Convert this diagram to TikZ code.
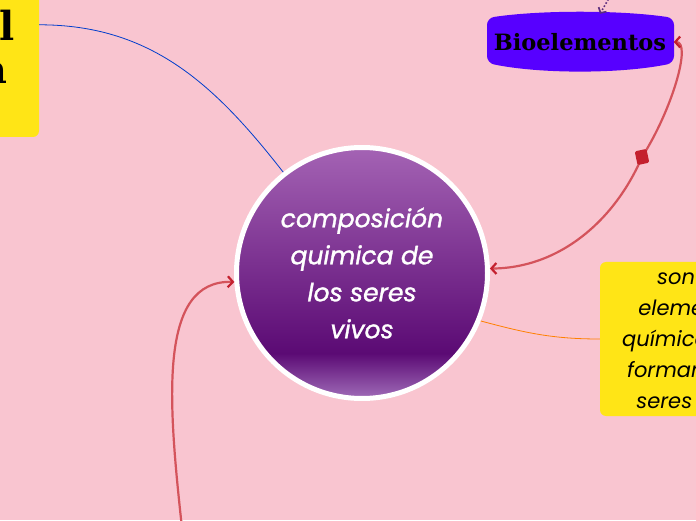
\documentclass[tikz,border=0pt]{standalone}
\usepackage{fontspec}
\usepackage{xcolor}
\usepackage{tikz}
\usetikzlibrary{positioning,arrows.meta}
\newfontfamily\ballfont{Poppins}[ItalicFeatures={FakeBold=1.3}]
\newfontfamily\notefont{Poppins}
\newfontfamily\chunkyfont{DejaVu Serif}
\definecolor{bgpink}{HTML}{F9C5D0}
\definecolor{notey}{HTML}{FFE516}
\definecolor{bioblue}{HTML}{5700FF}
\definecolor{linkred}{HTML}{D4535B}
\definecolor{tipred}{HTML}{C4202E}
\definecolor{toppurple}{HTML}{5C2C7E}
\definecolor{ballTop}{HTML}{A463B4}
\definecolor{ballDark}{HTML}{5B0A74}
\definecolor{ballLow}{HTML}{A06CB8}
\pgfdeclareverticalshading{purpball}{100bp}{color(0bp)=(ballLow); color(25bp)=(ballLow);
  color(34bp)=(ballDark); color(75bp)=(ballTop); color(100bp)=(ballTop)}

\begin{document}
\begin{tikzpicture}[x=1pt, y=1pt,
  ybox/.style={fill=notey, rounded corners=6pt},
  ball/.style={circle, minimum size=251, draw=white, line width=5pt,
    shade, shading=purpball, text=white, align=center,
    font=\ballfont\itshape\fontsize{25}{37}\selectfont},
  redline/.style={draw=linkred, line width=2.2pt},
  barb/.tip={Straight Barb[length=5pt, width=11pt, color=tipred]},
  knotbox/.style={fill=tipred, rounded corners=1.5pt, minimum width=12, minimum height=14, inner sep=0pt}]
  \useasboundingbox (0,0) rectangle (696,520);
  \clip (0,0) rectangle (696,520);
  \fill[bgpink] (0,0) rectangle (696,520);

  \node[ybox, minimum width=90, minimum height=180, align=center,
    font=\chunkyfont\bfseries\fontsize{40}{43}\selectfont] (lnote) at (-6,473) {al\\a};
  \node[ball] (main) at (362,247) {composición\\quimica de\\los seres\\vivos};
  % bioelementos
  \fill[bioblue, rounded corners=7pt] (487,502) .. controls (540,510) and (620,510) .. (674,502)
    -- (674,457) .. controls (620,446) and (540,446) .. (487,457) -- cycle;
  \node[minimum width=187, minimum height=56,
    font=\chunkyfont\bfseries\fontsize{22.5}{24}\selectfont] (bio) at (580,478) {Bioelementos};
  \node[ybox, minimum width=188, minimum height=154, inner ysep=0pt, align=center,
    font=\notefont\itshape\fontsize{21}{31}\selectfont] (rnote) at (694,181)
    {son los\\elementos\\químicos que\\forman a los\\seres vivos};

  \coordinate (knot) at (642,363);
  \coordinate (below) at (182,-8);
  \coordinate (above) at (612,527);

  \draw[draw=blue!70!cyan!80!black, line width=0.8pt] ([yshift=-68pt]lnote.north east) to[out=0,in=128] (main.128);
  \draw[draw=orange, line width=0.8pt] (main.-22) to[out=-15,in=180] (rnote.west);
  \draw[redline, {barb}-{barb}] (bio.east) .. controls (692,478) and (672,410) .. (knot)
    .. controls (615,300) and (560,252) .. (main.2);
  \node[knotbox, rotate=12] (knotmark) at (knot) {};
  \draw[redline, -{barb}] (below) .. controls (168,120) and (158,240) .. (main.184);
  \draw[toppurple, line width=1.6pt, dotted, -{Straight Barb[length=4pt, width=9pt]}]
    (above) -- ([xshift=20pt]bio.north);
\end{tikzpicture}
\end{document}
